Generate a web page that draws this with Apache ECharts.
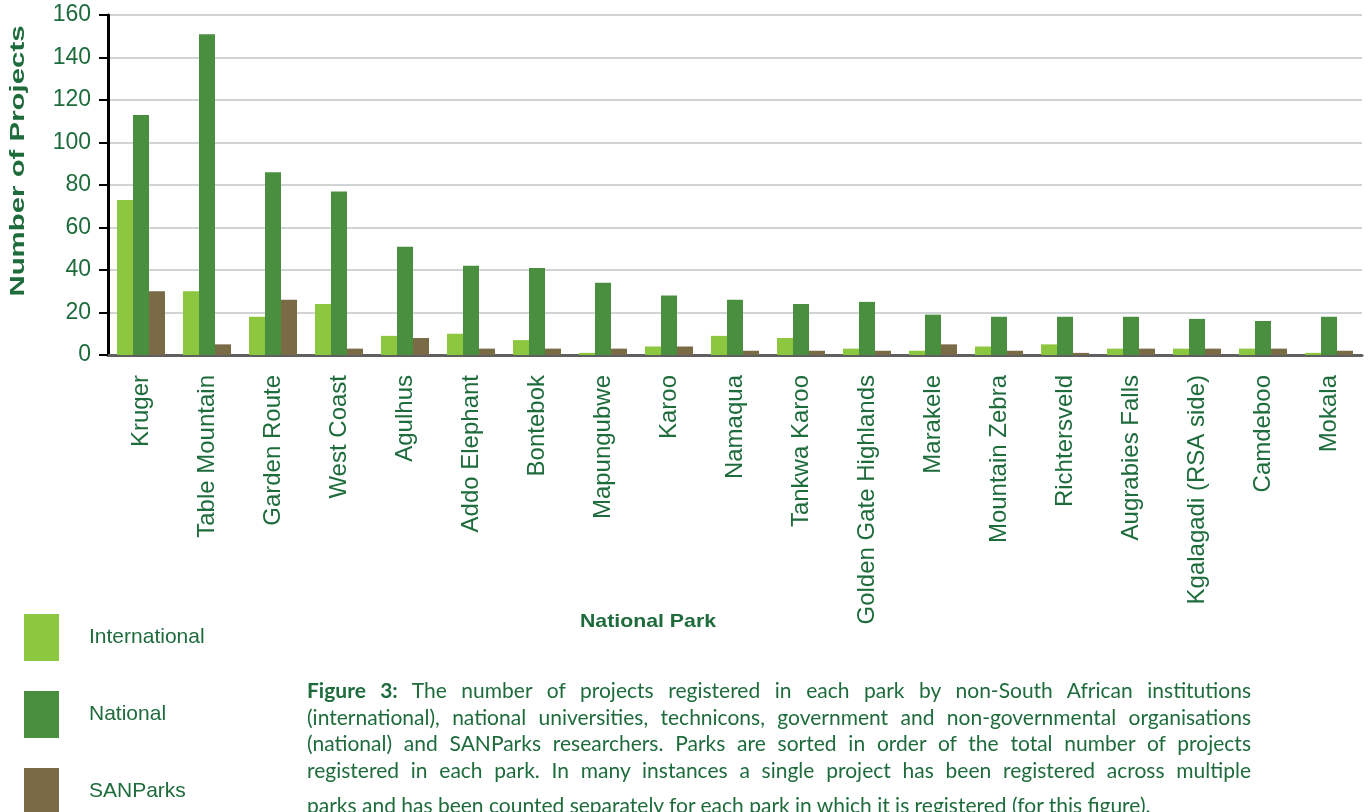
<!DOCTYPE html>
<html>
<head>
<meta charset="utf-8">
<title>Projects per National Park</title>
<script src="https://cdn.jsdelivr.net/npm/echarts@6/dist/echarts.min.js"></script>
<style>
  html, body {
    margin: 0;
    padding: 0;
    background: #fff;
  }

  .page {
    position: relative;
    width: 1370px;
    height: 812px;
    overflow: hidden;
  }

  #chart {
    position: absolute;
    left: 0;
    top: 0;
    width: 1370px;
    height: 812px;
  }

  .caption {
    position: absolute;
    left: 307px;
    top: 677px;
    width: 944px;
    color: #1e6b3c;
    font-family: Lato, "Open Sans", sans-serif;
    font-size: 21px;
    line-height: 26.5px;
  }

  .caption div {
    text-align: justify;
    text-align-last: justify;
  }

  .caption div.last {
    text-align-last: left;
    margin-top: 9px;
  }
</style>
</head>
<body>
<div class="page">
  <div id="chart"></div>
  <div class="caption">
    <div><b>Figure 3:</b> The number of projects registered in each park by non-South African institutions</div>
    <div>(international), national universities, technicons, government and non-governmental organisations</div>
    <div>(national) and SANParks researchers. Parks are sorted in order of the total number of projects</div>
    <div>registered in each park. In many instances a single project has been registered across multiple</div>
    <div class="last">parks and has been counted separately for each park in which it is registered (for this figure).</div>
  </div>
</div>

<script>
const parks = [
  'Kruger', 'Table Mountain', 'Garden Route', 'West Coast', 'Agulhus',
  'Addo Elephant', 'Bontebok', 'Mapungubwe', 'Karoo', 'Namaqua',
  'Tankwa Karoo', 'Golden Gate Highlands', 'Marakele', 'Mountain Zebra',
  'Richtersveld', 'Augrabies Falls', 'Kgalagadi (RSA side)', 'Camdeboo', 'Mokala',
]
const international = [73, 30, 18, 24, 9, 10, 7, 1, 4, 9, 8, 3, 2, 4, 5, 3, 3, 3, 1]
const national = [113, 151, 86, 77, 51, 42, 41, 34, 28, 26, 24, 25, 19, 18, 18, 18, 17, 16, 18]
const sanparks = [30, 5, 26, 3, 8, 3, 3, 3, 4, 2, 2, 2, 5, 2, 1, 3, 3, 3, 2]
const yTicks = [0, 20, 40, 60, 80, 100, 120, 140, 160]

const green = '#1e6b3c'
const font = '"Liberation Sans", Arial, sans-serif'

const chart = echarts.init(document.getElementById('chart'))

function barSeries(name, data, color) {
  return {
    name,
    type: 'bar',
    data,
    barWidth: 16,
    barGap: '0%',
    itemStyle: { color },
  }
}

chart.setOption({
  animation: false,
  textStyle: { fontFamily: font },
  grid: {
    left: 108,
    right: 8,
    top: 15,
    bottom: 457,
    containLabel: false,
    outerBoundsMode: 'none',
  },
  legend: {
    orient: 'vertical',
    left: 24,
    top: 614,
    height: 260,
    padding: 0,
    itemWidth: 35,
    itemHeight: 47,
    itemGap: 30,
    icon: 'rect',
    selectedMode: false,
    textStyle: {
      color: green,
      fontSize: 21,
      fontFamily: font,
      padding: [0, 0, 0, 25],
    },
    data: ['International', 'National', 'SANParks'],
  },
  xAxis: {
    type: 'category',
    data: parks,
    axisLine: { lineStyle: { color: '#5f5f5f', width: 3 } },
    axisTick: { show: false },
    axisLabel: {
      interval: 0,
      rotate: 90,
      margin: 20,
      color: green,
      fontSize: 24,
      fontFamily: font,
    },
  },
  yAxis: {
    type: 'value',
    min: yTicks[0],
    max: yTicks[yTicks.length - 1],
    interval: 20,
    axisLine: { show: true, lineStyle: { color: '#000', width: 3 } },
    axisTick: { show: true, length: 9, lineStyle: { color: '#000', width: 2 } },
    axisLabel: {
      margin: 17,
      color: green,
      fontSize: 23,
      fontFamily: font,
    },
    splitLine: { lineStyle: { color: '#d0d4d4', width: 2 } },
  },
  graphic: [
    {
      type: 'text',
      x: 18,
      y: 161,
      rotation: Math.PI / 2,
      scaleX: 1.4,
      style: {
        text: 'Number of Projects',
        fill: green,
        font: 'bold 21px ' + font,
        align: 'center',
        verticalAlign: 'middle',
      },
    },
    {
      type: 'text',
      x: 648,
      y: 622,
      scaleX: 1.12,
      style: {
        text: 'National Park',
        fill: green,
        font: 'bold 19px ' + font,
        align: 'center',
        verticalAlign: 'middle',
      },
    },
  ],
  series: [
    barSeries('International', international, '#8dc63f'),
    barSeries('National', national, '#4a8f40'),
    barSeries('SANParks', sanparks, '#786b45'),
  ],
})
</script>
</body>
</html>
